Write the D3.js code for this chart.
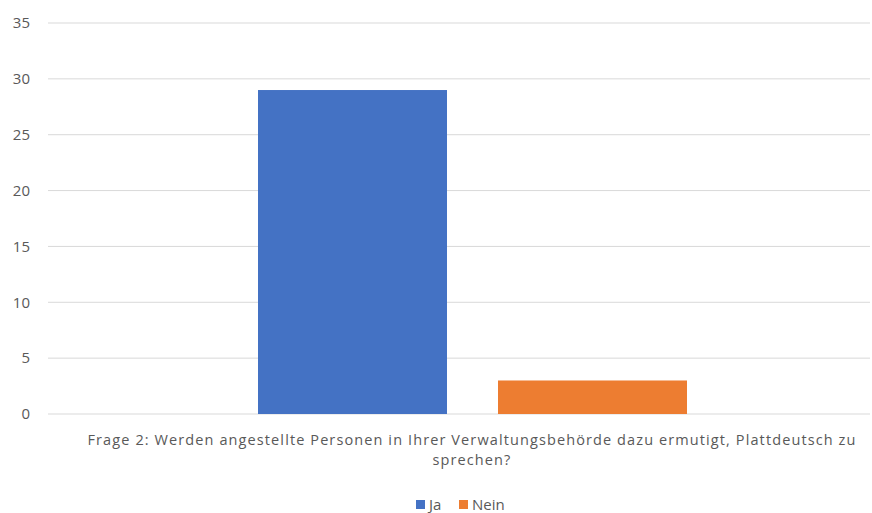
<!DOCTYPE html>
<html><head><meta charset="utf-8">
<script src="https://cdn.jsdelivr.net/npm/d3@7"></script>
<style>body{margin:0;background:#fff}svg{display:block}</style>
</head><body>
<svg id="c" width="872" height="513"></svg>
<script>
const category = "Frage 2: Werden angestellte Personen in Ihrer Verwaltungsbehörde dazu ermutigt, Plattdeutsch zu sprechen?";
const categoryLines = ["Frage 2: Werden angestellte Personen in Ihrer Verwaltungsbehörde dazu ermutigt, Plattdeutsch zu", "sprechen?"];
const seriesNames = ["Ja", "Nein"];
const seriesValues = [29, 3];
const seriesColors = ["#4472C4", "#ED7D31"];
const yTicks = [0, 5, 10, 15, 20, 25, 30, 35];

const svg = d3.select("#c");
const font = "'Open Sans', 'Liberation Sans', Arial, sans-serif";
const y = d3.scaleLinear().domain([0, 35]).range([414, 23]);
const xCat = d3.scaleBand().domain([category]).range([72, 872]);
const xSer = d3.scaleBand().domain(seriesNames).range([258, 687]).paddingInner(0.2125);

// gridlines
svg.append("g").selectAll("line").data(yTicks).join("line")
  .attr("x1", 48).attr("x2", 870)
  .attr("y1", d => y(d)).attr("y2", d => y(d))
  .attr("stroke", "#D9D9D9").attr("stroke-width", 1);

// y axis labels
svg.append("g").selectAll("text").data(yTicks).join("text")
  .attr("x", 30).attr("y", d => y(d)).attr("dy", "0.35em")
  .attr("text-anchor", "end").attr("font-family", font).attr("font-size", 15)
  .attr("fill", "#595959").text(d => d);

// bars
svg.append("g").selectAll("rect").data(seriesNames).join("rect")
  .attr("x", d => xSer(d)).attr("width", xSer.bandwidth())
  .attr("y", (d, i) => y(seriesValues[i]))
  .attr("height", (d, i) => y(0) - y(seriesValues[i]))
  .attr("fill", (d, i) => seriesColors[i]);

// category label
const cx = xCat(category) + xCat.bandwidth() / 2;
const catText = svg.append("g").selectAll("text").data(categoryLines).join("text")
  .attr("x", cx).attr("y", (d, i) => 445 + i * 20)
  .attr("text-anchor", "middle").attr("font-family", font).attr("font-size", 14.5)
  .attr("fill", "#595959").text(d => d);
// match the reference's wider Calibri-like letter spacing
const first = catText.nodes()[0];
const w = first.getComputedTextLength();
const ls = (769 - w) / categoryLines[0].length;
catText.attr("letter-spacing", ls + "px");

// legend
const legend = svg.append("g");
const legX = [416, 459];
seriesNames.forEach((n, i) => {
  legend.append("rect").attr("x", legX[i]).attr("y", 500).attr("width", 9).attr("height", 9)
    .attr("fill", seriesColors[i]);
  legend.append("text").attr("x", legX[i] + 13).attr("y", 510)
    .attr("font-family", font).attr("font-size", 15).attr("fill", "#595959").text(n);
});
</script>
</body></html>
